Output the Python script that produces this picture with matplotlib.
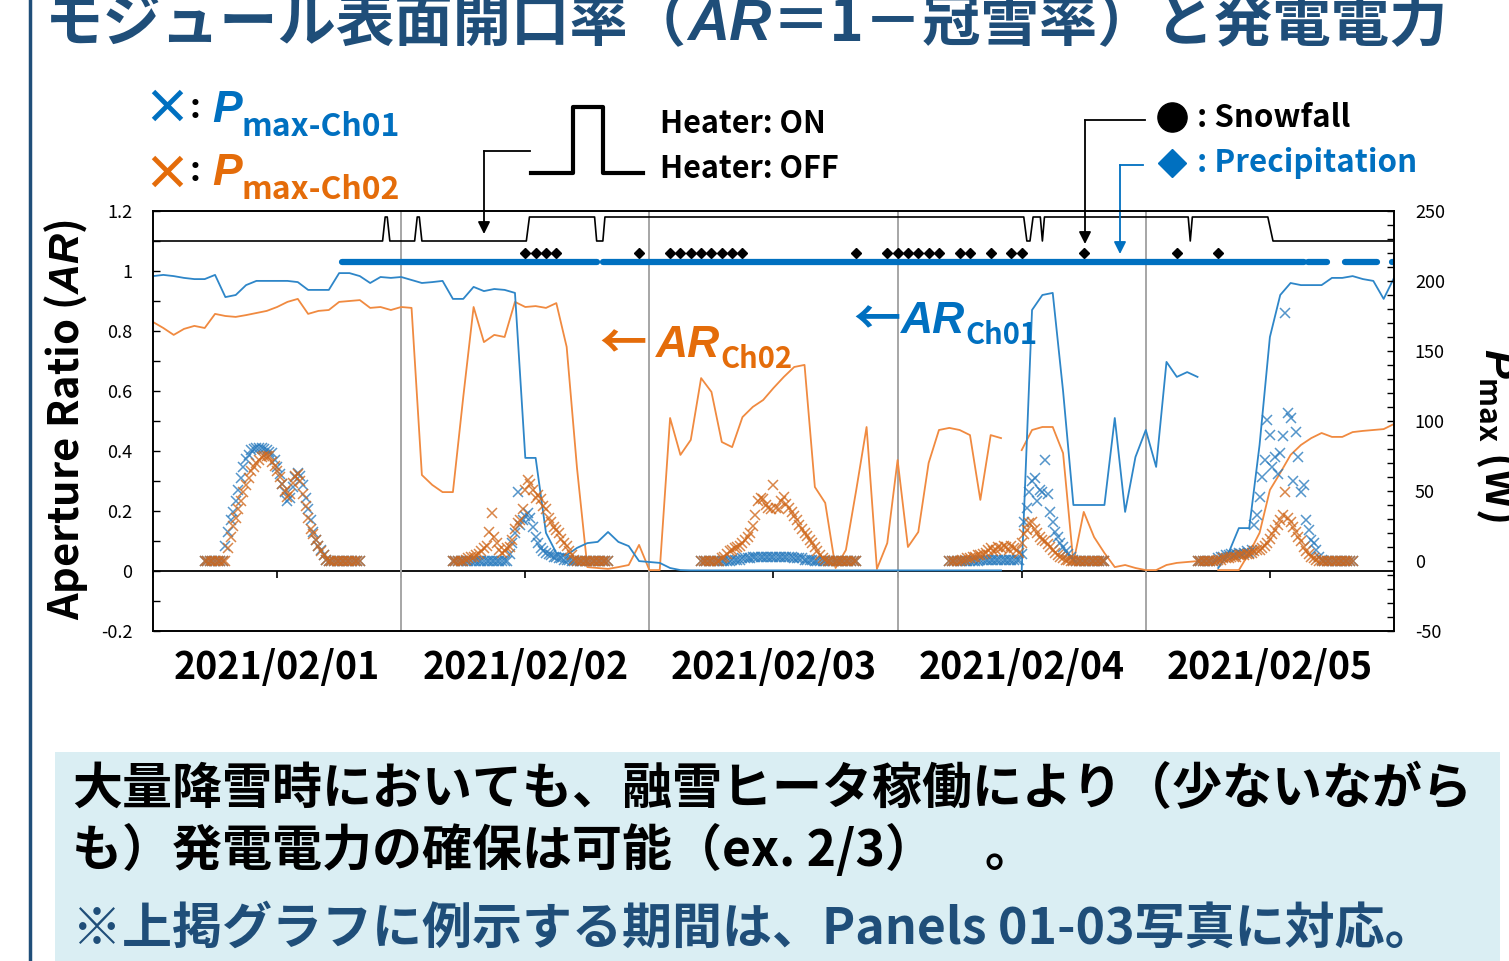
import numpy as np
import matplotlib.pyplot as plt
from matplotlib.lines import Line2D
from matplotlib.patches import Rectangle
from matplotlib.ticker import MultipleLocator, FuncFormatter

nan = np.nan

# hourly aperture ratio, 2021/02/01 00:00 .. 2021/02/06 00:00
ar_ch01 = [0.983, 0.987, 0.983, 0.977, 0.973, 0.973, 0.987, 0.913, 0.920, 0.953, 0.967, 0.967,
           0.967, 0.967, 0.963, 0.937, 0.937, 0.937, 0.993, 0.993, 0.983, 0.960, 0.980, 0.977,
           0.980, 0.970, 0.960, 0.963, 0.967, 0.907, 0.907, 0.947, 0.933, 0.940, 0.937, 0.927,
           0.377, 0.377, 0.127, 0.060, 0.053, 0.077, 0.093, 0.097, 0.130, 0.097, 0.083, 0.033,
           0.030, 0.027, 0.010, 0.003, 0.002, 0.002, 0.002, 0.002, 0.002, 0.002, 0.002, 0.002,
           0.002, 0.002, 0.002, 0.002, 0.002, 0.002, 0.002, 0.002, 0.002, 0.002, 0.002, 0.002,
           0.002, 0.002, 0.002, 0.002, 0.002, 0.002, 0.002, 0.002, 0.002, 0.002, 0.002, nan,
           0.003, 0.870, 0.920, 0.927, 0.600, 0.220, 0.220, 0.220, 0.220, 0.510, 0.197, 0.380,
           0.470, 0.347, 0.697, 0.647, 0.663, 0.647, nan, 0.010, 0.060, 0.143, 0.143, 0.420,
           0.780, 0.920, 0.960, 0.953, 0.953, 0.953, 0.977, 0.977, 0.983, 0.973, 0.967, 0.907,
           0.977]
ar_ch02 = [0.830, 0.810, 0.787, 0.807, 0.817, 0.810, 0.857, 0.850, 0.847, 0.853, 0.860, 0.867,
           0.880, 0.897, 0.907, 0.857, 0.867, 0.870, 0.897, 0.900, 0.903, 0.877, 0.880, 0.870,
           0.880, 0.877, 0.320, 0.287, 0.263, 0.263, 0.580, 0.880, 0.763, 0.787, 0.780, 0.897,
           0.880, 0.883, 0.877, 0.893, 0.747, 0.343, 0.013, 0.010, 0.007, 0.013, 0.020, 0.087,
           0.003, 0.003, 0.510, 0.387, 0.437, 0.643, 0.597, 0.430, 0.413, 0.513, 0.547, 0.570,
           0.610, 0.647, 0.680, 0.687, 0.280, 0.227, 0.010, 0.070, 0.270, 0.480, 0.007, 0.093,
           0.370, 0.080, 0.130, 0.360, 0.470, 0.477, 0.470, 0.453, 0.237, 0.453, 0.443, nan,
           0.403, 0.470, 0.480, 0.480, 0.393, 0.027, 0.197, 0.113, 0.060, 0.013, 0.020, 0.010,
           0.003, 0.003, 0.020, 0.027, 0.030, 0.033, nan, 0.003, 0.003, 0.003, 0.060, 0.127,
           0.270, 0.327, 0.387, 0.420, 0.443, 0.460, 0.447, 0.447, 0.463, 0.467, 0.470, 0.473,
           0.490]

# Pmax (W), every 15 min from 05:00 to 20:00 of each day
p01_0201 = [0, 0, 0, 0, 0, 0, 0, 0, 11, 21, 29, 35, 43, 51, 59, 67, 73, 76, 79, 80, 81, 81, 81, 80,
            79, 78, 77, 72, 67, 62, 55, 49, 43, 45, 53, 60, 63, 61, 54, 45, 37, 29, 21, 15, 11, 8,
            4, 1, 0, 0, 0, 0, 0, 0, 0, 0, 0, 0, 0, 0, 0]
p02_0201 = [0, 0, 0, 0, 0, 0, 0, 0, 0, 9, 17, 25, 31, 37, 43, 49, 54, 59, 64, 67, 70, 72, 74, 75,
            75, 75, 71, 68, 64, 60, 55, 50, 46, 48, 56, 61, 62, 57, 48, 39, 31, 23, 19, 15, 11, 7,
            4, 1, 0, 0, 0, 0, 0, 0, 0, 0, 0, 0, 0, 0, 0]
p01_0202 = [0, 0, 0, 0, 0, 0, 0, 0, 0, 0, 0, 0, 0, 0, 0, 0, 0, 0, 0, 0, 0, 0, 5, 13, 20, 49, 26,
            29, 32, 34, 31, 24, 17, 13, 9, 7, 6, 5, 4, 3, 3, 2, 2, 1, 1, 1, 0, 0, 0, 0, 0,
            0, 0, 0, 0, 0, 0, 0, 0, 0, 0]
p02_0202 = [0, 0, 0, 0, 0, 1, 2, 3, 3, 4, 5, 7, 9, 11, 21, 34, 17, 13, 8, 6, 7, 9, 10,
            15, 23, 27, 29, 37, 51, 58, 55, 51, 45, 47, 44, 39, 37, 31, 28, 24, 22, 20, 16, 13,
            11, 7, 4, 1, 0, 0, 0, 0, 0, 0, 0, 0, 0, 0, 0, 0, 0]
p01_0203 = [0, 0, 0, 0, 0, 0, 0, 0, 0, 0, 0, 0, 1, 1, 1, 1, 2, 2, 2, 2, 3, 3, 3, 3, 3, 3,
            3, 3, 3, 3, 3, 3, 3, 3, 3, 3, 2, 2, 2, 2, 1, 1, 1, 1, 0, 0, 0, 0, 0, 0, 0,
            0, 0, 0, 0, 0, 0, 0, 0, 0, 0]
p02_0203 = [0, 0, 0, 0, 0, 0, 0, 0, 2, 3, 5, 7, 8, 9, 10, 11, 13, 15, 17, 20, 25, 33, 43,
            45, 44, 40, 38, 37, 54, 38, 37, 43, 46, 41, 38, 35, 32, 29, 26, 23, 20, 18, 15, 13,
            10, 7, 4, 2, 1, 0, 0, 0, 0, 0, 0, 0, 0, 0, 0, 0, 0]
p01_0204 = [0, 0, 0, 0, 0, 0, 0, 0, 0, 0, 0, 0, 1, 1, 1, 1, 1, 1, 1, 1, 1, 1, 1, 1, 1, 1, 1, 1,
            5, 28, 38, 49, 57, 59, 43, 51, 49, 72, 48, 35, 28, 21, 17, 13, 10, 7, 5, 3, 1,
            0, 0, 0, 0, 0, 0, 0, 0, 0, 0, 0, 0]
p02_0204 = [0, 0, 0, 0, 0, 1, 1, 2, 2, 3, 3, 4, 4, 5, 6, 8, 9, 7, 8, 10, 9, 11, 10,
            8, 11, 9, 8, 6, 13, 19, 22, 27, 28, 23, 20, 17, 15, 14, 12, 10, 8, 6, 4, 3,
            2, 1, 1, 0, 0, 0, 0, 0, 0, 0, 0, 0, 0, 0, 0, 0, 0]
p01_0205 = [0, 0, 0, 0, 0, 0, 0, 0, 2, 3, 3, 4, 4, 5, 4, 5, 6, 5, 6, 7, 6, 8, 26,
            33, 46, 60, 72, 101, 90, 67, 74, 62, 77, 89, 177, 106, 102, 57, 92, 74, 49, 54, 29,
            22, 15, 13, 8, 3, 1, 0, 0, 0, 0, 0, 0, 0, 0, 0, 0, 0, 0]
p02_0205 = [0, 0, 0, 0, 0, 0, 0, 0, 1, 1, 2, 2, 2, 3, 3, 3, 4, 4, 4, 5, 5, 6, 7, 8,
            8, 9, 11, 13, 16, 19, 22, 26, 29, 33, 49, 31, 28, 24, 21, 17, 14, 10, 7, 5, 3,
            2, 1, 0, 0, 0, 0, 0, 0, 0, 0, 0, 0, 0, 0, 0, 0]
p01_days = [p01_0201, p01_0202, p01_0203, p01_0204, p01_0205]
p02_days = [p02_0201, p02_0202, p02_0203, p02_0204, p02_0205]

# event data (hours from 2021/02/01 00:00)
snow_hours = [36, 37, 38, 39, 47, 50, 51, 52, 53, 54, 55, 56, 57, 68, 71, 72, 73, 74, 75, 76,
              78, 79, 81, 83, 84, 90, 99, 103]
precip_start = [18.3, 43.55, 111.7, 115.3, 119.8]
precip_end = [42.9, 111.3, 113.5, 118.4, 120.0]
heater_t = [0, 22.2, 22.45, 22.65, 22.9, 25.3, 25.55, 25.75, 26.0, 36.1, 36.4, 42.7, 42.9, 43.5,
            43.7, 84.2, 84.5, 84.8, 85.1, 85.8, 86.0, 86.2, 100.1, 100.3, 100.5, 107.8, 108.3, 120]
heater_on = [0, 0, 1, 1, 0, 0, 1, 1, 0, 0, 1, 1, 0, 0, 1, 1, 0, 0, 1, 1, 0, 1, 1, 0, 1, 1, 0, 0]

day_labels = ['2021/02/01', '2021/02/02', '2021/02/03', '2021/02/04', '2021/02/05']

W, H = 1509, 961
JP = ['Noto Sans CJK JP', 'DejaVu Sans']
IT = ['Liberation Sans', 'DejaVu Sans']
plt.rcParams['font.family'] = JP
plt.rcParams['axes.unicode_minus'] = False
plt.rcParams['mathtext.fontset'] = 'custom'
plt.rcParams['mathtext.it'] = 'Liberation Sans:italic:bold'
plt.rcParams['mathtext.rm'] = 'Noto Sans CJK JP:bold'
plt.rcParams['mathtext.bf'] = 'Noto Sans CJK JP:bold'

NAVY = '#1F4E79'
BLUE = '#0070C0'
ORANGE = '#E46C0A'
LINE_BLUE = '#2E86C8'
LINE_ORANGE = '#F08A40'
MK_BLUE = '#2A7BBE'
MK_ORANGE = '#D0681C'


def fx(x):
    return x / W


def fy(y):
    return 1 - y / H


fig = plt.figure(figsize=(W / 100, H / 100), dpi=100)

ax = fig.add_axes([fx(153), fy(631), (1394 - 153) / W, 420 / H])
ax2 = ax.twinx()

hours = np.arange(len(ar_ch01))
ax.plot(hours, ar_ch02, color=LINE_ORANGE, lw=1.3)
ax.plot(hours, ar_ch01, color=LINE_BLUE, lw=1.3)

# heater state / snowfall / precipitation band at the top
ax.plot(heater_t, 1.1 + 0.08 * np.array(heater_on), color='black', lw=1.2)
ax.plot(snow_hours, np.full(len(snow_hours), 1.06), 'D', ms=5.5, color='black')
ax.hlines(np.full(len(precip_start), 1.03), precip_start, precip_end, color=BLUE, lw=4.5,
          capstyle='round')

for d, vals in enumerate(p01_days):
    t = 24 * d + 5 + 0.25 * np.arange(len(vals))
    ax2.plot(t, vals, 'x', ms=6.5, mew=1.1, color=MK_BLUE, alpha=0.8)
for d, vals in enumerate(p02_days):
    t = 24 * d + 5 + 0.25 * np.arange(len(vals))
    ax2.plot(t, vals, 'x', ms=6.5, mew=1.1, color=MK_ORANGE, alpha=0.8)

ax.set_xlim(0, 120)
ax.set_ylim(-0.2, 1.2)
ax2.set_ylim(-50, 250)

ax.yaxis.set_major_locator(MultipleLocator(0.2))
ax.yaxis.set_minor_locator(MultipleLocator(0.1))
ax.yaxis.set_major_formatter(FuncFormatter(lambda v, p: f'{round(v, 1) + 0:g}'))
ax.tick_params(axis='y', which='both', direction='in', length=5, width=1, labelsize=13, pad=15)
ax2.yaxis.set_major_locator(MultipleLocator(50))
ax2.yaxis.set_minor_locator(MultipleLocator(10))
ax2.tick_params(axis='y', which='both', direction='in', length=5, width=1, labelsize=13, pad=15)

ax.set_xticks([12, 36, 60, 84, 108])
ax.set_xticklabels(day_labels, fontsize=27, fontweight='bold')
ax.tick_params(axis='x', which='major', length=0, pad=12)
ax.set_xticks([24, 48, 72, 96], minor=True)
ax.tick_params(axis='x', which='minor', length=0)
ax.grid(axis='x', which='minor', color='#A6A6A6', lw=1.4)

zero_axis = ax.secondary_xaxis(0.2 / 1.4)
zero_axis.set_xticks(range(0, 121, 12))
zero_axis.tick_params(direction='out', length=5, width=1.2, labelbottom=False)
zero_axis.spines['bottom'].set_linewidth(1.3)

for a in (ax, ax2):
    for s in a.spines.values():
        s.set_color('black')
        s.set_linewidth(1.2)

fig.text(fx(66), fy(420), 'Aperture Ratio ($\\mathit{AR}$)', rotation=90, ha='center',
         va='center', fontsize=30, fontweight='bold')
fig.text(fx(1499), fy(435), '$\\mathit{P}_{\\mathrm{max}}$ (W)', rotation=270, ha='center',
         va='center', fontsize=31, fontweight='bold')


def chain(prev, s, base_y, **kw):
    return ax.annotate(s, xy=(1, fy(base_y)), xycoords=(prev, 'figure fraction'),
                       ha='left', va='baseline', annotation_clip=False, **kw)


# title
t1 = fig.text(fx(45), fy(40), 'モジュール表面開口率（', fontsize=42,
              fontweight='bold', color=NAVY, va='baseline')
t2 = chain(t1, 'AR', 40, family=IT, style='italic', fontsize=42, fontweight='bold', color=NAVY)
chain(t2, '＝1－冠雪率）と発電電力', 40, fontsize=42, fontweight='bold', color=NAVY)
fig.add_artist(Line2D([fx(30), fx(30)], [0, 1], color=NAVY, lw=2.5, transform=fig.transFigure))

# Pmax legend
for yc, yb, col, name in [(105, 122, BLUE, 'max-Ch01'), (171, 185, ORANGE, 'max-Ch02')]:
    fig.add_artist(Line2D([fx(167)], [fy(yc)], marker='x', ms=20, mew=3.5, color=col,
                          transform=fig.transFigure))
    fig.text(fx(190), fy(yb - 4), ':', fontsize=24, fontweight='bold', va='baseline')
    p = fig.text(fx(212), fy(yb), 'P', family=IT, fontsize=32, style='italic',
                 fontweight='bold', color=col, va='baseline')
    chain(p, name, yb + 14, fontsize=23, fontweight='bold', color=col)

# heater legend
hx = [531, 573, 573, 603, 603, 643]
hy = [173, 173, 107, 107, 173, 173]
fig.add_artist(Line2D([fx(v) for v in hx], [fy(v) for v in hy], color='black', lw=3,
                      transform=fig.transFigure))
fig.text(fx(660), fy(133), 'Heater: ON', fontsize=22, fontweight='bold', va='baseline')
fig.text(fx(660), fy(178), 'Heater: OFF', fontsize=22, fontweight='bold', va='baseline')

# snowfall / precipitation legend
fig.add_artist(Line2D([fx(1172)], [fy(117)], marker='o', ms=21, color='black',
                      transform=fig.transFigure))
fig.text(fx(1197), fy(127), ': Snowfall', fontsize=22.5, fontweight='bold', va='baseline')
fig.add_artist(Line2D([fx(1172)], [fy(163)], marker='D', ms=14, color=BLUE,
                      transform=fig.transFigure))
fig.text(fx(1197), fy(172), ': Precipitation', fontsize=22.5, fontweight='bold', color=BLUE,
         va='baseline')

# leader arrows
for (x0, x1, y0, y1, col) in [(530, 484, 151, 234, 'black'), (1145, 1085, 120, 244, 'black'),
                              (1143, 1120, 165, 254, BLUE)]:
    fig.add_artist(Line2D([fx(x0), fx(x1)], [fy(y0), fy(y0)], color=col, lw=1.3,
                          transform=fig.transFigure))
    ax.annotate('', xy=(x1, H - y1), xytext=(x1, H - y0), xycoords='figure pixels',
                textcoords='figure pixels', annotation_clip=False,
                arrowprops=dict(arrowstyle='-|>', color=col, lw=1.3, mutation_scale=18,
                                shrinkA=0, shrinkB=0))

# AR labels
for xa, xt, yb, col, name in [(599, 656, 358, ORANGE, 'Ch02'), (853, 901, 334, BLUE, 'Ch01')]:
    fig.text(fx(xa), fy(yb), '←', fontsize=34, fontweight='bold', color=col, va='baseline')
    a = fig.text(fx(xt), fy(yb - 1), 'AR', family=IT, fontsize=32, style='italic',
                 fontweight='bold', color=col, va='baseline')
    chain(a, name, yb + 10, fontsize=21, fontweight='bold', color=col)

# comment box
fig.add_artist(Rectangle((fx(55), 0), fx(1500) - fx(55), fy(752), transform=fig.transFigure,
                         facecolor='#DAEEF3', edgecolor='none', zorder=0))
fig.text(fx(72), fy(804), '大量降雪時においても、融雪ヒータ稼働により（少ないながら',
         fontsize=36, fontweight='bold', va='baseline')
fig.text(fx(72), fy(866), 'も）発電電力の確保は可能（ex. 2/3）\u3000。',
         fontsize=36, fontweight='bold', va='baseline')
fig.text(fx(72), fy(944), '※上掲グラフに例示する期間は、Panels 01-03写真に対応。',
         fontsize=36, fontweight='bold', color=NAVY, va='baseline')

fig.savefig('out.png', dpi=100)
